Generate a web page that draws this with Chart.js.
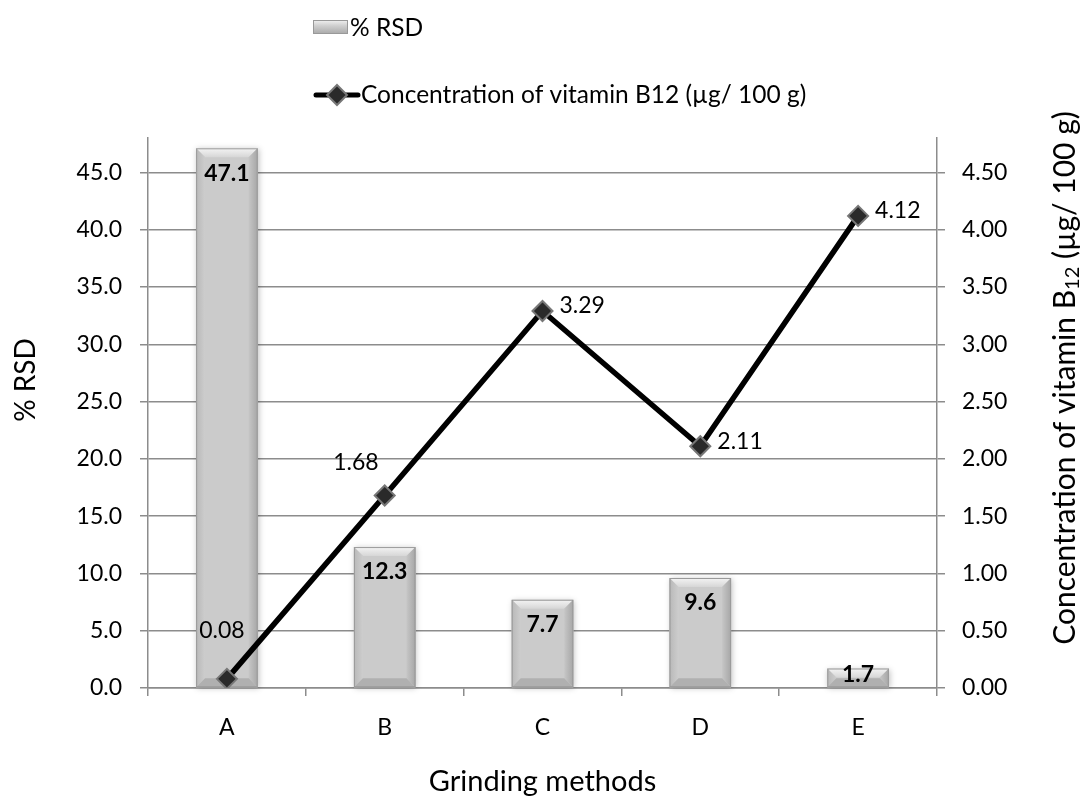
<!DOCTYPE html>
<html>
<head>
<meta charset="utf-8">
<script src="https://cdn.jsdelivr.net/npm/chart.js@4/dist/chart.umd.min.js"></script>
<style>
  body { margin: 0; background: #fff; }
  #wrap { width: 1088px; height: 797px; position: relative; }
</style>
</head>
<body>
<div id="wrap"><canvas id="chart"></canvas></div>
<script>
const categories = ["A", "B", "C", "D", "E"];
const rsdValues = [47.1, 12.3, 7.7, 9.6, 1.7];
const b12Values = [0.08, 1.68, 3.29, 2.11, 4.12];
const leftTicks = [0, 5, 10, 15, 20, 25, 30, 35, 40, 45];
const rightTicks = [0, 0.5, 1, 1.5, 2, 2.5, 3, 3.5, 4, 4.5];

const FONT = "Lato, 'Open Sans', sans-serif";
const gridGray = "#8c8c8c";

// where each line label sits relative to its point
const lineLabelPos = ["above", "left", "right", "right", "right"];

const bevelPlugin = {
  id: "bevel",
  afterDatasetDraw(chart, args) {
    if (args.index !== 0) return;
    const ctx = chart.ctx;
    args.meta.data.forEach(bar => {
      const w = bar.width;
      const x = bar.x - w / 2;
      const y = bar.y;
      const base = bar.base;
      const h = base - y;
      const b = Math.min(9, h / 2);
      ctx.save();
      ctx.shadowColor = "rgba(0,0,0,0.25)";
      ctx.shadowBlur = 6;
      ctx.shadowOffsetX = 1;
      ctx.shadowOffsetY = 1;
      ctx.fillStyle = "#cbcbcb";
      ctx.fillRect(x, y, w, h);
      ctx.restore();

      ctx.save();
      // top bevel
      let g = ctx.createLinearGradient(0, y, 0, y + b);
      g.addColorStop(0, "#f4f4f4");
      g.addColorStop(1, "#d6d6d6");
      ctx.fillStyle = g;
      ctx.beginPath();
      ctx.moveTo(x, y); ctx.lineTo(x + w, y); ctx.lineTo(x + w - b, y + b); ctx.lineTo(x + b, y + b);
      ctx.closePath(); ctx.fill();
      // left bevel
      g = ctx.createLinearGradient(x, 0, x + b, 0);
      g.addColorStop(0, "#b8b8b8");
      g.addColorStop(1, "#cdcdcd");
      ctx.fillStyle = g;
      ctx.beginPath();
      ctx.moveTo(x, y); ctx.lineTo(x + b, y + b); ctx.lineTo(x + b, base - b); ctx.lineTo(x, base);
      ctx.closePath(); ctx.fill();
      // right bevel
      g = ctx.createLinearGradient(x + w - b, 0, x + w, 0);
      g.addColorStop(0, "#c6c6c6");
      g.addColorStop(1, "#a6a6a6");
      ctx.fillStyle = g;
      ctx.beginPath();
      ctx.moveTo(x + w, y); ctx.lineTo(x + w - b, y + b); ctx.lineTo(x + w - b, base - b); ctx.lineTo(x + w, base);
      ctx.closePath(); ctx.fill();
      // bottom bevel
      ctx.fillStyle = "#b0b0b0";
      ctx.beginPath();
      ctx.moveTo(x, base); ctx.lineTo(x + b, base - b); ctx.lineTo(x + w - b, base - b); ctx.lineTo(x + w, base);
      ctx.closePath(); ctx.fill();
      ctx.strokeStyle = "#9a9a9a";
      ctx.lineWidth = 1;
      ctx.strokeRect(x + 0.5, y + 0.5, w - 1, h - 1);
      ctx.restore();
    });
  }
};

const labelPlugin = {
  id: "labels",
  afterDatasetsDraw(chart) {
    const ctx = chart.ctx;
    ctx.save();
    ctx.fillStyle = "#000";
    // bar labels, bold, inside end
    ctx.font = "bold 23px " + FONT;
    ctx.textAlign = "center";
    ctx.textBaseline = "middle";
    chart.getDatasetMeta(0).data.forEach((bar, i) => {
      const cy = Math.min(bar.y + 25, bar.base - 13);
      ctx.fillText(rsdValues[i].toFixed(1), bar.x, cy);
    });
    // line labels
    ctx.font = "23px " + FONT;
    chart.getDatasetMeta(1).data.forEach((pt, i) => {
      const txt = b12Values[i].toFixed(2);
      const pos = lineLabelPos[i];
      if (pos === "above") {
        ctx.textAlign = "center";
        ctx.fillText(txt, pt.x - 5, pt.y - 48);
      } else if (pos === "left") {
        ctx.textAlign = "right";
        ctx.fillText(txt, pt.x - 6, pt.y - 33);
      } else {
        ctx.textAlign = "left";
        ctx.fillText(txt, pt.x + 17, pt.y - 5);
      }
    });
    ctx.restore();
  }
};

const titlePlugin = {
  id: "titles",
  afterDraw(chart) {
    const ctx = chart.ctx;
    const area = chart.chartArea;
    ctx.save();
    ctx.fillStyle = "#000";
    ctx.textBaseline = "middle";
    // x title
    ctx.font = "29px " + FONT;
    ctx.textAlign = "center";
    ctx.fillText("Grinding methods", (area.left + area.right) / 2, 782);
    // left title
    ctx.save();
    ctx.translate(26, 380);
    ctx.rotate(-Math.PI / 2);
    ctx.font = "28px " + FONT;
    ctx.fillText("% RSD", 0, 0);
    ctx.restore();
    // right title with subscript
    ctx.save();
    ctx.translate(1065, 378);
    ctx.rotate(-Math.PI / 2);
    const big = "30px " + FONT, small = "20px " + FONT;
    const parts = [["Concentration of vitamin B", big, 0], ["12", small, 8], [" (\u00b5g/ 100 g)", big, 0]];
    let total = 0;
    parts.forEach(p => { ctx.font = p[1]; total += ctx.measureText(p[0]).width; });
    let xx = -total / 2;
    ctx.textAlign = "left";
    parts.forEach(p => {
      ctx.font = p[1];
      ctx.fillText(p[0], xx, p[2]);
      xx += ctx.measureText(p[0]).width;
    });
    ctx.restore();

    // legend
    ctx.font = "24.5px " + FONT;
    ctx.textAlign = "left";
    const sx = 313, sy = 20, sw = 35, sh = 14;
    let g = ctx.createLinearGradient(0, sy, 0, sy + sh);
    g.addColorStop(0, "#f2f2f2");
    g.addColorStop(0.4, "#d0d0d0");
    g.addColorStop(1, "#a8a8a8");
    ctx.fillStyle = g;
    ctx.fillRect(sx, sy, sw, sh);
    ctx.strokeStyle = "#999";
    ctx.lineWidth = 1;
    ctx.strokeRect(sx + 0.5, sy + 0.5, sw - 1, sh - 1);
    ctx.fillStyle = "#000";
    ctx.fillText("% RSD", 350, 28);
    // line swatch
    ctx.strokeStyle = "#000";
    ctx.lineWidth = 5;
    ctx.lineCap = "round";
    ctx.beginPath();
    ctx.moveTo(316, 95); ctx.lineTo(358, 95);
    ctx.stroke();
    ctx.beginPath();
    ctx.moveTo(337, 85); ctx.lineTo(347, 95); ctx.lineTo(337, 105); ctx.lineTo(327, 95);
    ctx.closePath();
    ctx.fillStyle = "#2a2a2a";
    ctx.fill();
    ctx.strokeStyle = "#777";
    ctx.lineWidth = 2;
    ctx.stroke();
    ctx.fillStyle = "#000";
    ctx.fillText("Concentration of vitamin B12 (\u00b5g/ 100 g)", 361, 95);
    ctx.restore();
  }
};

const ctx = document.getElementById("chart");

new Chart(ctx, {
  data: {
    labels: categories,
    datasets: [
      {
        type: "bar",
        label: "% RSD",
        data: rsdValues,
        yAxisID: "y",
        backgroundColor: "#cbcbcb",
        borderWidth: 0,
        barPercentage: 0.39,
        categoryPercentage: 1,
        order: 2
      },
      {
        type: "line",
        label: "Concentration of vitamin B12 (\u00b5g/ 100 g)",
        data: b12Values,
        yAxisID: "y1",
        borderColor: "#000",
        borderWidth: 5.5,
        pointStyle: "rectRot",
        pointRadius: 10,
        pointBackgroundColor: "#2a2a2a",
        pointBorderColor: "#777",
        pointBorderWidth: 2,
        order: 1
      }
    ]
  },
  options: {
    responsive: true,
    maintainAspectRatio: false,
    animation: false,
    layout: { padding: { top: 138, left: 0, right: 0, bottom: 0 } },
    plugins: {
      legend: { display: false },
      tooltip: { enabled: false }
    },
    scales: {
      x: {
        offset: true,
        grid: { offset: true, drawOnChartArea: false, drawTicks: true, tickLength: 8, color: gridGray, lineWidth: 1.5 },
        border: { display: true, color: gridGray, width: 1.5 },
        ticks: { color: "#000", font: { family: FONT, size: 23 }, padding: 18 },
        afterFit(scale) { scale.height = 109; }
      },
      y: {
        position: "left",
        min: 0,
        max: 48,
        afterBuildTicks(scale) { scale.ticks = leftTicks.map(v => ({ value: v })); },
        grid: { drawOnChartArea: true, drawTicks: true, tickLength: 8, color: gridGray, lineWidth: 1.5 },
        border: { display: true, color: gridGray, width: 1.5 },
        ticks: { color: "#000", font: { family: FONT, size: 23 }, padding: 18, callback: v => v.toFixed(1) },
        afterFit(scale) { scale.width = 148; }
      },
      y1: {
        position: "right",
        min: 0,
        max: 4.8,
        afterBuildTicks(scale) { scale.ticks = rightTicks.map(v => ({ value: v })); },
        grid: { drawOnChartArea: false, drawTicks: true, tickLength: 8, color: gridGray, lineWidth: 1.5 },
        border: { display: true, color: gridGray, width: 1.5 },
        ticks: { color: "#000", font: { family: FONT, size: 23 }, padding: 17, callback: v => v.toFixed(2) },
        afterFit(scale) { scale.width = 151; }
      }
    }
  },
  plugins: [bevelPlugin, labelPlugin, titlePlugin]
});
</script>
</body>
</html>
